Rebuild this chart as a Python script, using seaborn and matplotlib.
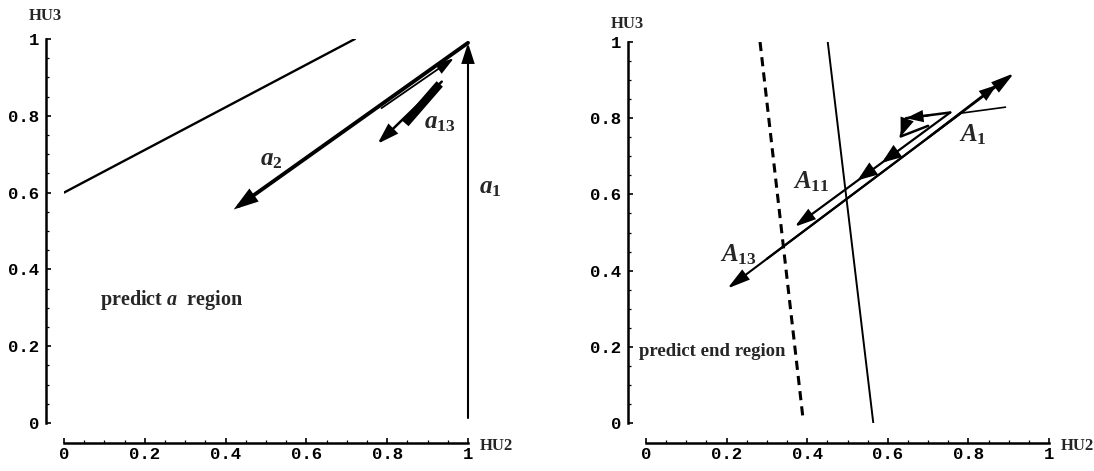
import matplotlib
matplotlib.use("Agg")
import matplotlib.pyplot as plt
from matplotlib.ticker import FixedLocator, MultipleLocator
import pandas as pd
import seaborn as sns

# ---------------- data ----------------
tick_values = [0, 0.2, 0.4, 0.6, 0.8, 1]
tick_labels = ["0", "0.2", "0.4", "0.6", "0.8", "1"]
x_axis_label = "HU2"
y_axis_label = "HU3"

# left panel ("predict a region")
left_boundary_x = [0.0, 0.72]
left_boundary_y = [0.6, 1.0]
left_arrow_x0 = [1.0, 1.0, 0.786, 0.935]
left_arrow_y0 = [0.013, 0.99, 0.82, 0.889]
left_arrow_x1 = [1.0, 0.42, 0.965, 0.776]
left_arrow_y1 = [0.99, 0.556, 0.95, 0.727]
left_burst_x = [0.93, 0.845]
left_burst_y = [0.883, 0.78]
left_label_text = ["$a_2$", "$a_{13}$", "$a_1$"]
left_label_x = [0.514, 0.93, 1.055]
left_label_y = [0.685, 0.78, 0.611]
left_region_text = "predict $\\mathit{a}$  region"
left_region_x = 0.266
left_region_y = 0.32

# right panel ("predict end region")
right_dashed_x = [0.283, 0.39]
right_dashed_y = [1.0, 0.008]
right_solid_x = [0.451, 0.564]
right_solid_y = [1.0, 0.0]
right_tail_x = [0.78, 0.892]
right_tail_y = [0.813, 0.829]
right_loop_x = [0.755, 0.645, 0.632, 0.70, 0.755]
right_loop_y = [0.815, 0.800, 0.752, 0.780, 0.815]
right_arrow_x0 = [0.30, 0.70, 0.78, 0.755, 0.70, 0.640, 0.62, 0.56]
right_arrow_y0 = [0.431, 0.749, 0.812, 0.815, 0.807, 0.775, 0.710, 0.664]
right_arrow_x1 = [0.913, 0.87, 0.202, 0.369, 0.645, 0.632, 0.585, 0.525]
right_arrow_y1 = [0.918, 0.887, 0.353, 0.515, 0.800, 0.752, 0.683, 0.637]
right_label_text = ["$A_1$", "$A_{11}$", "$A_{13}$"]
right_label_x = [0.812, 0.411, 0.229]
right_label_y = [0.756, 0.633, 0.441]
right_region_text = "predict end region"
right_region_x = 0.164
right_region_y = 0.187

# ---------------- style ----------------
sns.set_theme(style="white")
plt.rcParams["font.family"] = ["Liberation Serif", "DejaVu Serif"]
plt.rcParams["mathtext.fontset"] = "custom"
plt.rcParams["mathtext.it"] = "Liberation Serif:italic:bold"
plt.rcParams["mathtext.rm"] = "Liberation Serif:bold"
plt.rcParams["mathtext.bf"] = "Liberation Serif:bold"

W, H = 1094, 471
fig = plt.figure(figsize=(W / 100, H / 100), dpi=100)
fig.patch.set_facecolor("white")

ax_l = fig.add_axes([64 / W, (H - 423) / H, 404 / W, 384 / H])
ax_r = fig.add_axes([646 / W, (H - 423) / H, 403 / W, 381 / H])

left_arrow_lw = [1.5, 2.8, 1.3, 1.8]
left_arrow_head = [(1.0, 0.32), (1.0, 0.32), (0.9, 0.28), (1.0, 0.32)]
right_arrow_lw = [1.6, 1.6, 1.5, 1.6, 1.5, 2.0, 2.5, 2.5]
right_arrow_head = [(1.1, 0.3), (0.8, 0.28), (1.1, 0.3), (1.0, 0.3),
                    (0.8, 0.28), (0.8, 0.3), (0.8, 0.3), (0.8, 0.3)]


def draw_arrow(ax, x0, y0, x1, y1, lw, head):
    hl, hw = head
    ax.annotate("", xy=(x1, y1), xytext=(x0, y0), xycoords="data",
                textcoords="data", annotation_clip=False,
                arrowprops=dict(arrowstyle=f"-|>,head_length={hl},head_width={hw}",
                                lw=lw, color="black", shrinkA=0, shrinkB=0,
                                mutation_scale=12, joinstyle="miter"))


def style_axes(ax, ylab_y):
    ax.set_xlim(0, 1)
    ax.set_ylim(0, 1)
    ax.set_facecolor("white")
    for s in ["top", "right"]:
        ax.spines[s].set_visible(False)
    ax.spines["left"].set_position(("outward", 13))
    ax.spines["bottom"].set_position(("outward", 14.4))
    ax.spines["left"].set_bounds(0, 1)
    ax.spines["bottom"].set_bounds(0, 1)
    for s in ["left", "bottom"]:
        ax.spines[s].set_linewidth(1.8)
        ax.spines[s].set_color("black")
    ax.xaxis.set_major_locator(FixedLocator(tick_values))
    ax.yaxis.set_major_locator(FixedLocator(tick_values))
    ax.set_xticklabels(tick_labels)
    ax.set_yticklabels(tick_labels)
    ax.xaxis.set_minor_locator(MultipleLocator(0.05))
    ax.yaxis.set_minor_locator(MultipleLocator(0.05))
    ax.tick_params(which="major", direction="in", length=3.5, width=1.2,
                   color="black", bottom=True, left=True)
    ax.tick_params(which="minor", direction="in", length=2, width=0.9,
                   color="black", bottom=True, left=True)
    ax.tick_params(axis="x", which="major", pad=3)
    ax.tick_params(axis="y", which="major", pad=5)
    for lab in ax.get_xticklabels() + ax.get_yticklabels():
        lab.set_fontfamily("Liberation Mono")
        lab.set_fontweight("bold")
        lab.set_fontsize(12.5)
        lab.set_color("black")
    ax.grid(False)
    ax.set_xlabel("")
    ax.set_ylabel("")
    ax.text(-0.047, ylab_y, y_axis_label, fontsize=12, ha="center", va="center",
            fontfamily="Liberation Serif", fontweight="bold", clip_on=False)
    ax.text(1.07, -0.06, x_axis_label, fontsize=12, ha="center", va="center",
            fontfamily="Liberation Serif", fontweight="bold", clip_on=False)


# ---------------- left panel ----------------
sns.lineplot(data=pd.DataFrame({"x": left_boundary_x, "y": left_boundary_y}),
             x="x", y="y", sort=False, color="black", lw=1.7, ax=ax_l)
sns.lineplot(data=pd.DataFrame({"x": left_burst_x, "y": left_burst_y}),
             x="x", y="y", sort=False, color="black", lw=6,
             solid_capstyle="butt", ax=ax_l)
for i in range(len(left_arrow_x0)):
    draw_arrow(ax_l, left_arrow_x0[i], left_arrow_y0[i], left_arrow_x1[i],
               left_arrow_y1[i], left_arrow_lw[i], left_arrow_head[i])
for t, x, y in zip(left_label_text, left_label_x, left_label_y):
    ax_l.text(x, y, t, fontsize=18, ha="center", va="center", clip_on=False)
ax_l.text(left_region_x, left_region_y, left_region_text, fontsize=14.5,
          fontweight="bold", ha="center", va="center")
style_axes(ax_l, 1.06)

# ---------------- right panel ----------------
sns.lineplot(data=pd.DataFrame({"x": right_dashed_x, "y": right_dashed_y}),
             x="x", y="y", sort=False, color="black", lw=2.2,
             linestyle=(0, (3, 2)), ax=ax_r)
sns.lineplot(data=pd.DataFrame({"x": right_solid_x, "y": right_solid_y}),
             x="x", y="y", sort=False, color="black", lw=1.4, ax=ax_r)
sns.lineplot(data=pd.DataFrame({"x": right_tail_x, "y": right_tail_y}),
             x="x", y="y", sort=False, color="black", lw=1.2, ax=ax_r)
sns.lineplot(data=pd.DataFrame({"x": right_loop_x, "y": right_loop_y}),
             x="x", y="y", sort=False, color="black", lw=1.8, ax=ax_r)
for i in range(len(right_arrow_x0)):
    draw_arrow(ax_r, right_arrow_x0[i], right_arrow_y0[i], right_arrow_x1[i],
               right_arrow_y1[i], right_arrow_lw[i], right_arrow_head[i])
for t, x, y in zip(right_label_text, right_label_x, right_label_y):
    ax_r.text(x, y, t, fontsize=18, ha="center", va="center", clip_on=False)
ax_r.text(right_region_x, right_region_y, right_region_text, fontsize=13.5,
          fontweight="bold", ha="center", va="center")
style_axes(ax_r, 1.047)

fig.savefig("out.png", dpi=100, facecolor="white")
